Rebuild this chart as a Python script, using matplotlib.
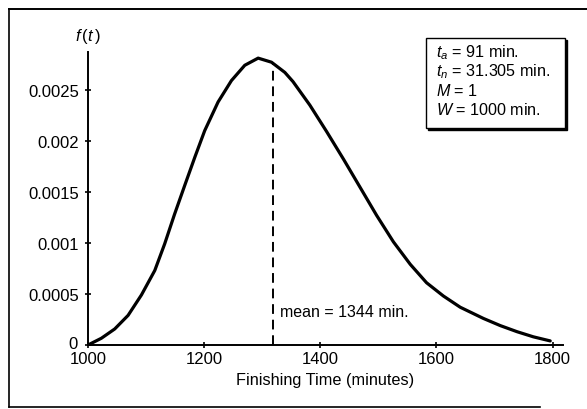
import matplotlib
matplotlib.use("Agg")
import matplotlib.pyplot as plt
import matplotlib.transforms as mtransforms
from matplotlib.patches import Rectangle
from matplotlib.lines import Line2D

plt.rcParams['font.family'] = ['Liberation Sans', 'DejaVu Sans']
plt.rcParams['mathtext.fontset'] = 'custom'
plt.rcParams['mathtext.rm'] = 'Liberation Sans'
plt.rcParams['mathtext.it'] = 'Liberation Sans:italic'

# Data
finish_time = [1000, 1023, 1046, 1069, 1092, 1115, 1132, 1149, 1167, 1184, 1201,
               1224, 1247, 1270, 1293, 1316, 1339, 1353, 1382, 1411, 1440, 1468,
               1497, 1526, 1555, 1583, 1612, 1641, 1681, 1710, 1739, 1767, 1796]
density = [0.0, 0.000066, 0.000157, 0.00029, 0.00049, 0.00073, 0.00099, 0.00128,
           0.00157, 0.00184, 0.00210, 0.00238, 0.00259, 0.00274, 0.00281,
           0.00277, 0.00267, 0.00258, 0.00235, 0.00209, 0.00182, 0.00155,
           0.00127, 0.00101, 0.00079, 0.00061, 0.00048, 0.00037, 0.00026,
           0.00019, 0.00013, 0.00008, 0.00004]
mean_line_x = 1319
mean_label = "mean = 1344 min."
x_ticks = [1000, 1200, 1400, 1600, 1800]
y_ticks = [0, 0.0005, 0.001, 0.0015, 0.002, 0.0025]
y_tick_labels = ["0", "0.0005", "0.001", "0.0015", "0.002", "0.0025"]
param_lines = [r"$t_a$ = 91 min.", r"$t_n$ = 31.305 min.", r"$M$ = 1", r"$W$ = 1000 min."]

W, H = 587, 410
fig = plt.figure(figsize=(W / 100, H / 100), dpi=100)
fig.patch.set_facecolor('white')

# axes placement (pixels: left 88, right 563, bottom 346, top 53)
ax = fig.add_axes([88 / W, 1 - 346 / H, (563 - 88) / W, (346 - 53) / H])
ax.plot(finish_time, density, color='black', lw=2.3, solid_capstyle='round',
        solid_joinstyle='round')
ax.plot([mean_line_x, mean_line_x], [0, 0.00275], color='black', lw=1.4,
        linestyle=(0, (5, 3)))
ax.text(mean_line_x + 12, 0.00033, mean_label, fontsize=11.5, va='center', ha='left')

ax.set_xlim(1000, 1818)
ax.set_ylim(0, 0.00287)
ax.set_xticks(x_ticks)
ax.set_yticks(y_ticks)
ax.set_yticklabels(y_tick_labels)
for s in ['top', 'right']:
    ax.spines[s].set_visible(False)
for s in ['left', 'bottom']:
    ax.spines[s].set_linewidth(1.4)
ax.tick_params(direction='inout', length=5, width=1.2, labelsize=12)
ax.tick_params(axis='y', pad=4)
ax.tick_params(axis='x', pad=1.5)
ax.set_xlabel("Finishing Time (minutes)", fontsize=11.7, labelpad=5)
ax.text(0, 1.0 + 16 / 293, r"$f\,(t\,)$", transform=ax.transAxes, ha='center',
        va='center', fontsize=12)

# nudge the "0" y tick label up slightly so it clears the "1000" label
zero_label = ax.get_yticklabels()[0]
zero_label.set_transform(zero_label.get_transform() +
                         mtransforms.ScaledTranslation(-1 / 100, 3 / 100, fig.dpi_scale_trans))

# parameter box with shadow
bx0, by0, bx1, by1 = 426, 39, 565, 129
fig.patches.append(Rectangle((bx0 / W + 2 / W, 1 - by1 / H - 2 / H), (bx1 - bx0) / W,
                             (by1 - by0) / H, transform=fig.transFigure,
                             facecolor='black', edgecolor='black', zorder=5))
fig.patches.append(Rectangle((bx0 / W, 1 - by1 / H), (bx1 - bx0) / W, (by1 - by0) / H,
                             transform=fig.transFigure, facecolor='white',
                             edgecolor='black', lw=1.0, zorder=6))
for i, line in enumerate(param_lines):
    fig.text(436 / W, 1 - (53 + 19 * i) / H, line, fontsize=11.6, va='center',
             ha='left', zorder=7)

# outer frame (left, top, bottom)
fig.add_artist(Line2D([9 / W, 9 / W], [1 - 408 / H, 1 - 10 / H], color='black',
                      lw=1.2, transform=fig.transFigure))
fig.add_artist(Line2D([9 / W, 1.0], [1 - 10 / H, 1 - 10 / H], color='black',
                      lw=1.4, transform=fig.transFigure))
fig.add_artist(Line2D([9 / W, 540 / W], [1 - 408 / H, 1 - 408 / H], color='black',
                      lw=1.2, transform=fig.transFigure))

fig.savefig("out.png", dpi=100, facecolor='white')
